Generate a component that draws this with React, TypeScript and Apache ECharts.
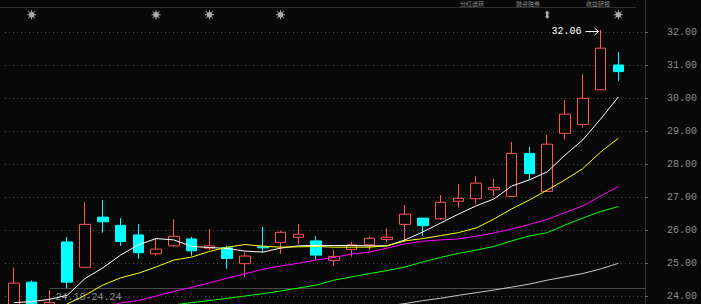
import React, { useEffect, useRef } from "react";
import * as echarts from "echarts";

// ---- data ----
const categories = [
  "1", "2", "3", "4", "5", "6", "7", "8", "9", "10", "11", "12",
  "13", "14", "15", "16", "17", "18", "19", "20", "21", "22", "23", "24",
  "25", "26", "27", "28", "29", "30", "31", "32", "33", "34", "35", "36",
];

const opens = [23.60, 24.42, 23.70, 25.64, 24.87, 26.39, 26.14, 25.85, 25.28, 25.52, 25.73, 25.45, 25.46, 24.98, 25.49, 25.62, 25.78, 25.67, 25.08, 25.41, 25.55, 25.71, 26.17, 26.36, 26.34, 26.87, 26.95, 27.22, 27.02, 28.32, 27.17, 28.93, 29.20, 30.25, 31.00];
const closes = [24.39, 23.70, 23.80, 24.42, 26.17, 26.25, 25.65, 25.31, 25.42, 25.81, 25.37, 25.52, 25.14, 25.21, 25.46, 25.93, 25.87, 25.24, 25.20, 25.55, 25.75, 25.78, 26.48, 26.13, 26.84, 26.96, 27.42, 27.29, 28.32, 27.71, 28.60, 29.51, 29.99, 31.51, 30.80];
const highs = [24.86, 24.47, 24.18, 25.79, 26.84, 26.91, 26.36, 26.18, 25.75, 26.33, 25.79, 26.03, 25.52, 25.32, 26.09, 25.98, 26.18, 25.82, 25.39, 25.64, 25.80, 26.05, 26.76, 26.37, 27.06, 27.39, 27.64, 27.55, 28.67, 28.52, 28.88, 29.94, 30.73, 32.06, 31.39];
const lows = [23.50, 23.60, 23.65, 24.24, 24.87, 25.92, 25.52, 25.13, 25.22, 25.50, 25.22, 25.39, 24.83, 24.57, 25.33, 25.28, 25.57, 25.09, 24.91, 25.19, 25.41, 25.62, 25.66, 25.83, 26.30, 26.68, 26.78, 27.04, 27.00, 27.52, 27.15, 28.74, 29.10, 30.24, 30.52];

const ma5 = [23.80, 23.83, 23.90, 24.02, 24.53, 24.85, 25.24, 25.55, 25.74, 25.70, 25.50, 25.47, 25.44, 25.36, 25.33, 25.45, 25.52, 25.53, 25.53, 25.53, 25.52, 25.52, 25.70, 25.94, 26.21, 26.48, 26.73, 26.94, 27.33, 27.52, 27.76, 28.27, 28.73, 29.36, 30.03];
const ma10 = ["-", "-", 23.48, 23.76, 24.02, 24.33, 24.55, 24.69, 24.88, 25.09, 25.18, 25.35, 25.48, 25.56, 25.51, 25.48, 25.49, 25.50, 25.48, 25.48, 25.48, 25.52, 25.67, 25.74, 25.83, 25.92, 26.06, 26.33, 26.64, 26.91, 27.21, 27.52, 27.86, 28.36, 28.78];
const ma20 = ["-", "-", "-", "-", "-", 23.64, 23.79, 23.86, 24.00, 24.14, 24.26, 24.40, 24.54, 24.67, 24.81, 24.91, 24.99, 25.09, 25.17, 25.27, 25.33, 25.45, 25.58, 25.66, 25.70, 25.73, 25.81, 25.91, 26.03, 26.17, 26.32, 26.53, 26.73, 27.03, 27.32];
const ma30 = ["-", "-", "-", "-", "-", "-", "-", "-", "-", 23.73, 23.80, 23.86, 23.93, 24.00, 24.07, 24.15, 24.24, 24.33, 24.48, 24.58, 24.68, 24.77, 24.88, 25.03, 25.17, 25.29, 25.39, 25.50, 25.67, 25.82, 25.92, 26.15, 26.36, 26.56, 26.71];
const ma60 = ["-", "-", "-", "-", "-", "-", "-", "-", "-", "-", "-", "-", "-", "-", "-", "-", "-", "-", "-", "-", "-", 23.70, 23.77, 23.86, 23.93, 24.02, 24.10, 24.18, 24.27, 24.36, 24.48, 24.58, 24.68, 24.82, 24.99];

const starMarks = [1, 8, 11, 15, 34];
const arrowMarks = [30];
const gapFrom = 2; // gap between candle 2 high and candle 3 low
const topTabs = ["分红送转", "融资融券", "收益研报"];

// ---- styling ----
const BG = "#080808";
const UP = "#ff5454";
const DOWN = "#00ffff";
const MARK_ROW = 32.52;
const MONO = "Liberation Mono";

const STAR_PATH =
  "path://M2,2H7V7H2Z M4,0H5V2H4Z M4,7H5V9H4Z M0,4H2V5H0Z M7,4H9V5H7Z M1,1H2V2H1Z M7,1H8V2H7Z M1,7H2V8H1Z M7,7H8V8H7Z";
const UPDOWN_PATH = "path://M2,0L4,2H3V5H4L2,7L0,5H1V2H0Z";

export default function App() {
  const ref = useRef<HTMLDivElement>(null);

  useEffect(() => {
    const chart = echarts.init(ref.current!, null, { renderer: "svg" });
    const candles = opens.map((o, i) => [o, closes[i], lows[i], highs[i]]);
    const maLine = (name: string, data: any[], color: string) => ({
      name,
      type: "line",
      data,
      symbol: "none",
      clip: false,
      silent: true,
      lineStyle: { color, width: 1 },
      z: 3,
    });

    chart.setOption({
      animation: false,
      backgroundColor: BG,
      grid: { left: 5, right: 56, top: 32, bottom: 8 },
      xAxis: {
        type: "category",
        data: categories,
        boundaryGap: true,
        show: false,
      },
      yAxis: {
        type: "value",
        position: "right",
        min: 24,
        max: 32,
        interval: 1,
        axisLine: { show: false },
        axisTick: { show: true, length: 3, lineStyle: { color: "#666" } },
        axisLabel: {
          margin: 22,
          align: "left",
          color: "#8c8c8c",
          fontFamily: MONO,
          fontSize: 10,
          formatter: (v: number) => v.toFixed(2),
        },
        splitLine: { lineStyle: { color: "#4a4a4a", type: [1, 3], width: 1 } },
      },
      series: [
        {
          type: "candlestick",
          data: candles,
          barWidth: 11,
          clip: false,
          silent: true,
          z: 2,
          itemStyle: {
            color: BG,
            color0: DOWN,
            borderColor: UP,
            borderColor0: DOWN,
            borderColorDoji: UP,
            borderWidth: 1,
          },
        },
        maLine("MA5", ma5, "#ffffff"),
        maLine("MA10", ma10, "#ffff00"),
        maLine("MA20", ma20, "#ff00ff"),
        maLine("MA30", ma30, "#00ff00"),
        maLine("MA60", ma60, "#c8c8c8"),
        {
          type: "scatter",
          data: starMarks.map((i) => [i, MARK_ROW]),
          symbol: STAR_PATH,
          symbolSize: 9,
          clip: false,
          silent: true,
          itemStyle: { color: "#d4d4d4" },
        },
        {
          type: "scatter",
          data: arrowMarks.map((i) => [i, MARK_ROW]),
          symbol: UPDOWN_PATH,
          symbolSize: [5, 8],
          clip: false,
          silent: true,
          itemStyle: { color: "#d4d4d4" },
        },
      ],
    });

    // positions from the chart's own scales
    const gapLow = lows[gapFrom + 1];
    const gapHigh = highs[gapFrom];
    const [gx, gy] = chart.convertToPixel({ gridIndex: 0 }, [gapFrom, gapLow]) as number[];
    let maxI = 0;
    highs.forEach((h, i) => {
      if (h > highs[maxI]) maxI = i;
    });
    const [hx, hy] = chart.convertToPixel({ gridIndex: 0 }, [maxI, highs[maxI]]) as number[];
    const tabX = [472, 528, 598];

    chart.setOption({
      graphic: [
        {
          type: "line",
          shape: { x1: 0, y1: 7.5, x2: 636, y2: 7.5 },
          style: { stroke: "#303030", lineWidth: 1 },
          silent: true,
        },
        {
          type: "line",
          shape: { x1: 645.5, y1: 0, x2: 645.5, y2: 304 },
          style: { stroke: "#353535", lineWidth: 1 },
          silent: true,
        },
        ...topTabs.map((t, i) => ({
          type: "text",
          x: tabX[i],
          y: 0,
          silent: true,
          style: {
            text: t,
            fill: "#8a8a8a",
            font: '6px "Noto Sans CJK SC"',
            textAlign: "center",
            textVerticalAlign: "top",
          },
        })),
        {
          type: "line",
          shape: { x1: gx, y1: Math.round(gy) + 0.5, x2: 645, y2: Math.round(gy) + 0.5 },
          style: { stroke: "#4a4a4a", lineWidth: 1 },
          silent: true,
          z: 1,
        },
        {
          type: "text",
          x: gx + 6,
          y: gy + 4,
          silent: true,
          z: 1,
          style: {
            text: `${gapHigh.toFixed(2)}-${gapLow.toFixed(2)}`,
            fill: "#8c8c8c",
            font: `10px "${MONO}"`,
            textAlign: "left",
            textVerticalAlign: "top",
          },
        },
        {
          type: "text",
          x: hx - 19,
          y: hy + 1,
          silent: true,
          style: {
            text: highs[maxI].toFixed(2),
            fill: "#ffffff",
            font: `10px "${MONO}"`,
            textAlign: "right",
            textVerticalAlign: "middle",
          },
        },
        {
          type: "line",
          shape: { x1: hx - 15, y1: hy + 1.5, x2: hx - 2, y2: hy + 1.5 },
          style: { stroke: "#ffffff", lineWidth: 1 },
          silent: true,
        },
        {
          type: "polyline",
          shape: { points: [[hx - 6, hy - 2], [hx - 2, hy + 1.5], [hx - 6, hy + 5]] },
          style: { stroke: "#ffffff", lineWidth: 1, fill: null },
          silent: true,
        },
      ],
    });

    return () => chart.dispose();
  }, []);

  return (
    <div
      ref={ref}
      style={{ position: "fixed", left: 0, top: 0, width: 701, height: 304 }}
    />
  );
}
